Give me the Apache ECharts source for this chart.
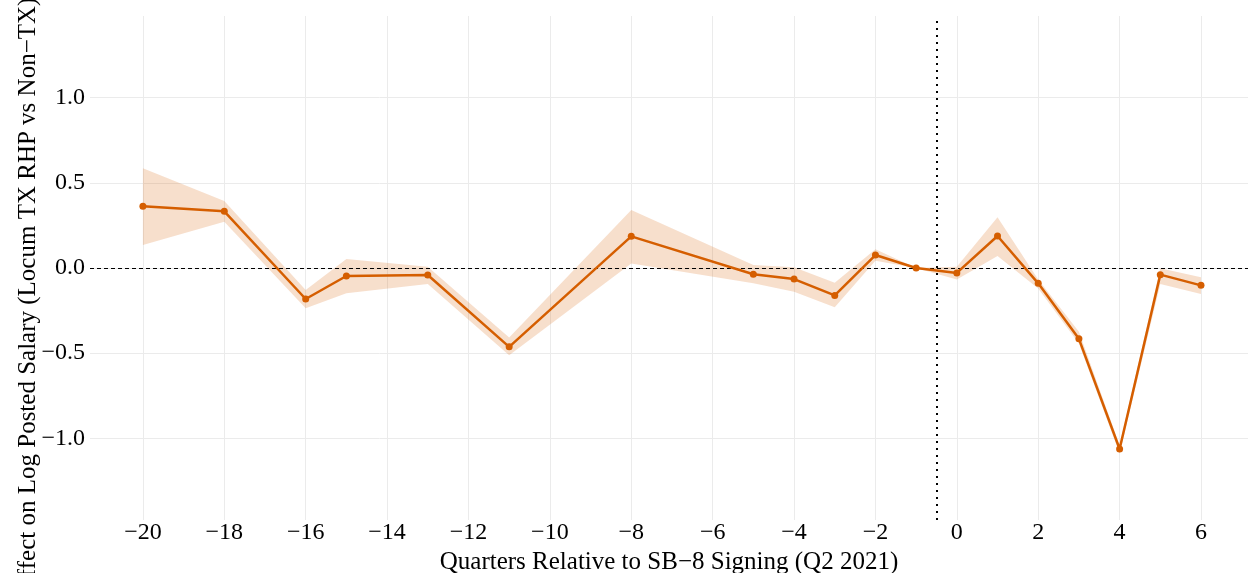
<!DOCTYPE html>
<html>
<head>
<meta charset="utf-8">
<script src="https://cdn.jsdelivr.net/npm/echarts@6/dist/echarts.min.js"></script>
<style>
html,body{margin:0;padding:0;background:#fff;}
#chart{width:1248px;height:573px;}
</style>
</head>
<body>
<div id="chart"></div>
<script>
const quarters = [-20,-18,-16,-15,-13,-11,-8,-5,-4,-3,-2,-1,0,1,2,3,4,5,6];
const estimate = [0.363,0.333,-0.182,-0.047,-0.041,-0.463,0.186,-0.037,-0.065,-0.161,0.076,0,-0.029,0.188,-0.090,-0.416,-1.063,-0.039,-0.102];
const ciUpper  = [0.586,0.394,-0.129,0.053,0.008,-0.408,0.341,0.018,0.004,-0.086,0.110,0,0.008,0.298,-0.067,-0.375,-1.041,-0.002,-0.055];
const ciLower  = [0.135,0.272,-0.237,-0.149,-0.094,-0.512,0.027,-0.090,-0.139,-0.231,0.043,0,-0.067,0.071,-0.120,-0.443,-1.090,-0.094,-0.153];
const xTicks = [-20,-18,-16,-14,-12,-10,-8,-6,-4,-2,0,2,4,6];
const yTicks = [-1,-0.5,0,0.5,1];
const eventLine = -0.5;
const xTitle = 'Quarters Relative to SB\u22128 Signing (Q2 2021)';
const yTitle = 'Effect on Log Posted Salary (Locum TX RHP vs Non\u2212TX)';

const col = '#D55E00';
const font = 'Liberation Serif, Times New Roman, serif';
const fmtMinus = s => String(s).replace('-', '\u2212');

const chart = echarts.init(document.getElementById('chart'), null, {renderer: 'canvas'});
chart.setOption({
  animation: false,
  backgroundColor: '#ffffff',
  grid: {left: 90, right: 0, top: 16, bottom: 53, containLabel: false, outerBoundsMode: 'none'},
  graphic: [{
    type: 'text', x: 28, y: 295, rotation: Math.PI / 2, silent: true,
    style: {text: yTitle, fontFamily: font, fontSize: 25, fill: '#000',
      align: 'center', verticalAlign: 'middle'}
  }],
  xAxis: {
    type: 'value', min: -21.3, max: 7.155,
    name: xTitle, nameLocation: 'middle', nameGap: 13,
    nameTextStyle: {fontFamily: font, fontSize: 25, color: '#000'},
    axisLine: {show: false}, axisTick: {show: false, customValues: xTicks},
    axisLabel: {customValues: xTicks, fontFamily: font, fontSize: 24, color: '#000', margin: 1,
      formatter: v => fmtMinus(v)},
    splitLine: {show: true, lineStyle: {color: '#EBEBEB', width: 1}}
  },
  yAxis: {
    type: 'value', min: -1.48, max: 1.48,
    axisLine: {show: false}, axisTick: {show: false, customValues: yTicks},
    axisLabel: {customValues: yTicks, fontFamily: font, fontSize: 24, color: '#000', margin: 5,
      formatter: v => fmtMinus(v.toFixed(1))},
    splitLine: {show: true, lineStyle: {color: '#EBEBEB', width: 1}}
  },
  series: [
    {
      type: 'custom', silent: true, z: 2,
      data: quarters.map((q, i) => [q, ciLower[i], ciUpper[i]]),
      renderItem: function (params, api) {
        if (params.dataIndex !== 0) return null;
        const pts = [];
        for (let i = 0; i < quarters.length; i++) pts.push(api.coord([quarters[i], ciUpper[i]]));
        for (let i = quarters.length - 1; i >= 0; i--) pts.push(api.coord([quarters[i], ciLower[i]]));
        return {
          type: 'polygon',
          shape: {points: pts},
          style: {fill: 'rgba(213,94,0,0.2)', stroke: 'none'}
        };
      },
      markLine: {
        silent: true, symbol: 'none', label: {show: false},
        data: [
          {yAxis: 0, lineStyle: {type: [4, 3], color: '#000', width: 1}},
          {xAxis: eventLine, lineStyle: {type: [2, 5], color: '#000', width: 2}}
        ]
      }
    },
    {
      type: 'line', symbol: 'circle', symbolSize: 7,
      itemStyle: {color: col},
      lineStyle: {color: col, width: 2.5},
      data: quarters.map((q, i) => [q, estimate[i]]),
      z: 5
    }
  ]
});
</script>
</body>
</html>
